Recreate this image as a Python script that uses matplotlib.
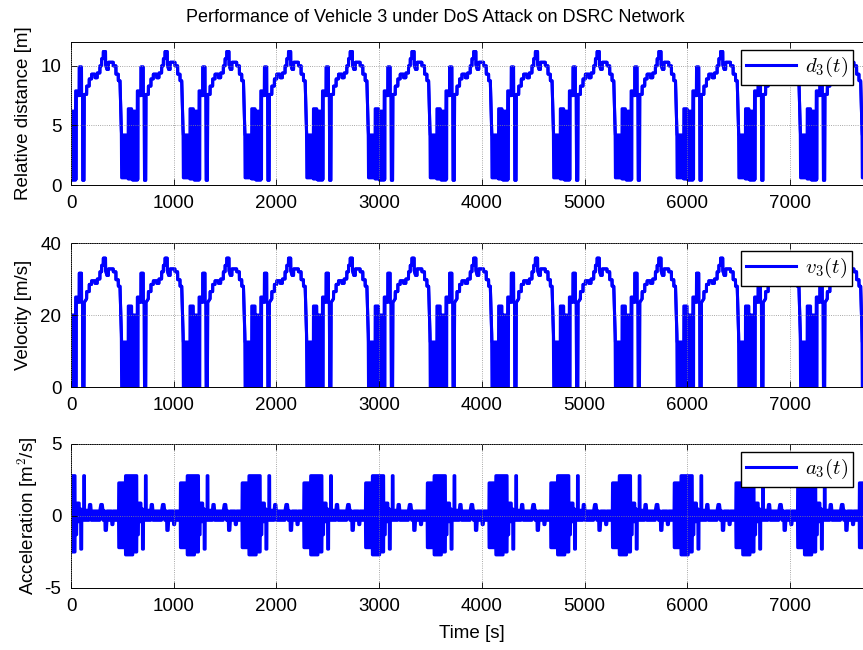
import numpy as np
import matplotlib
matplotlib.use("Agg")
import matplotlib.pyplot as plt

# start time of each repeated driving cycle [s]
cycle_starts = [0, 601, 1202, 1803, 2404, 3005, 3606, 4207, 4808, 5409, 6010, 6611, 7212]

# one cycle, time offsets [s]; lo/hi give the band swept by the fast switching
dv_r = [0, 44, 45, 52, 53, 80, 81, 102, 103, 112,
        115, 126, 129, 152, 153, 177, 178, 200, 201, 233,
        234, 255, 256, 281, 282, 298, 299, 314, 315, 336,
        337, 350, 364, 365, 411, 412, 437, 438, 460, 461,
        477, 490, 493, 557, 558, 590, 591, 601]

d_lo = [0.4, 0.4, 0.5, 0.5, 7.5, 7.5, 9.9, 9.9, 7.5, 7.5,
        0.4, 0.4, 7.6, 7.6, 8.3, 8.3, 8.9, 8.9, 9.3, 9.3,
        9.0, 9.0, 9.4, 9.4, 10.0, 10.0, 10.6, 10.6, 11.2, 11.2,
        10.1, 9.7, 9.7, 10.3, 10.3, 10.0, 10.0, 9.3, 9.3, 8.75,
        8.75, 4.6, 0.6, 0.6, 0.5, 0.5, 0.5, 0.5]
d_hi = [6.2, 6.2, 7.9, 7.9, 7.9, 7.9, 9.9, 9.9, 7.5, 7.5,
        0.4, 0.4, 7.6, 7.6, 8.3, 8.3, 8.9, 8.9, 9.3, 9.3,
        9.0, 9.0, 9.4, 9.4, 10.0, 10.0, 10.6, 10.6, 11.2, 11.2,
        10.1, 9.7, 9.7, 10.3, 10.3, 10.0, 10.0, 9.3, 9.3, 8.75,
        8.75, 4.6, 4.2, 4.2, 6.4, 6.4, 5.7, 5.7]

v_lo = [0, 0, 0, 0, 23.5, 23.5, 31.6, 31.6, 23.5, 23.5,
        0, 0, 23.5, 24.5, 26.5, 26.5, 28.5, 28.5, 29.5, 29.5,
        28.8, 28.8, 30.0, 30.0, 32.0, 32.0, 33.8, 33.8, 35.8, 35.8,
        32.3, 31.0, 31.0, 32.8, 32.8, 32.0, 32.0, 29.8, 29.8, 28.0,
        28.0, 14.7, 0, 0, 0, 0, 0, 0]
v_hi = [20, 20, 25, 25, 25, 25, 31.6, 31.6, 23.5, 23.5,
        0, 0, 23.5, 24.5, 26.5, 26.5, 28.5, 28.5, 29.5, 29.5,
        28.8, 28.8, 30.0, 30.0, 32.0, 32.0, 33.8, 33.8, 35.8, 35.8,
        32.3, 31.0, 31.0, 32.8, 32.8, 32.0, 32.0, 29.8, 29.8, 28.0,
        28.0, 14.7, 12.5, 12.5, 22.5, 22.5, 19.0, 19.0]

a_r = [0, 39, 40, 55, 56, 80, 81, 94, 95, 104,
       105, 123, 124, 131, 132, 175, 180, 192, 197, 280,
       290, 305, 312, 330, 332, 345, 350, 395, 398, 408,
       412, 463, 465, 530, 531, 601]
a_lo = [-2.5, -2.5, -1.3, -1.3, -0.4, -0.4, -0.4, -0.4, -2.3, -2.3,
        -0.3, -0.3, -0.3, -0.3, -0.3, -0.3, -0.1, -0.1, -0.3, -0.3,
        0.0, 0.0, -0.3, -0.3, -1.0, -1.0, -0.3, -0.3, -0.6, -0.6,
        -0.3, -0.3, -2.2, -2.2, -2.7, -2.7]
a_hi = [2.8, 2.8, 0.9, 0.9, 0.9, 0.9, 0.5, 0.5, 0.4, 0.4,
        0.4, 0.4, 2.8, 2.8, 0.4, 0.4, 0.8, 0.8, 0.35, 0.35,
        0.8, 0.8, 0.35, 0.35, 0.2, 0.2, 0.35, 0.35, 0.3, 0.3,
        0.35, 0.35, 2.3, 2.3, 2.8, 2.8]

x_ticks = [0, 1000, 2000, 3000, 4000, 5000, 6000, 7000, 8000]
x_ticklabels = ['0', '1000', '2000', '3000', '4000', '5000', '6000', '7000', '']

plt.rcParams['font.family'] = ['Liberation Sans', 'DejaVu Sans']
plt.rcParams['mathtext.fontset'] = 'cm'
plt.rcParams['axes.unicode_minus'] = False


def repeat_cycles(r, lo, hi):
    t = np.concatenate([s + np.array(r, float) for s in cycle_starts])
    return t, np.tile(lo, len(cycle_starts)), np.tile(hi, len(cycle_starts))


W, H = 863, 650
fig = plt.figure(figsize=(W / 100, H / 100), dpi=100)

left_px, width_px = 71, 821.6
panels = [
    # top, bottom px, profile, ylim, yticks, legend, ylabel, ylabel x px
    (42, 185, (dv_r, d_lo, d_hi), (0, 12), [0, 5, 10], r'$d_3(t)$',
     'Relative distance [m]', 23),
    (243, 387, (dv_r, v_lo, v_hi), (0, 40), [0, 20, 40], r'$v_3(t)$',
     'Velocity [m/s]', 24),
    (444, 588, (a_r, a_lo, a_hi), (-5, 5), [-5, 0, 5], r'$a_3(t)$',
     'Acceleration [m$^2$/s]', 28),
]

for top, bot, prof, ylim, yticks, leg, ylab, ylx in panels:
    ax = fig.add_axes([left_px / W, 1 - bot / H, width_px / W, (bot - top) / H])
    t, lo, hi = repeat_cycles(*prof)
    ax.fill_between(t, lo, hi, color='b', lw=0)
    line, = ax.plot(t, hi, color='b', lw=2.2, label=leg)
    ax.plot(t, lo, color='b', lw=2.2)
    ax.set_xlim(0, 8000)
    ax.set_ylim(*ylim)
    ax.set_xticks(x_ticks)
    ax.set_xticklabels(x_ticklabels)
    ax.set_yticks(yticks)
    ax.grid(True, linestyle=':', color='0.55', linewidth=0.6)
    ax.set_axisbelow(False)
    ax.tick_params(direction='in', top=True, right=True, length=4, width=0.6,
                   labelsize=13.5, pad=7)
    for sp in ax.spines.values():
        sp.set_linewidth(0.7)
    ax.legend(handles=[line], loc='upper left',
              bbox_to_anchor=((741 - left_px) / width_px, 1 - 8 / (bot - top)),
              borderaxespad=0, fontsize=15, handlelength=2.4,
              handletextpad=0.4, borderpad=0.25, fancybox=False,
              framealpha=1, edgecolor='k')
    fig.text(ylx / W, 1 - (top + bot) / 2 / H, ylab, rotation=90,
             ha='center', va='center', fontsize=13.5)

fig.text(435 / W, 1 - 18 / H, 'Performance of Vehicle 3 under DoS Attack on DSRC Network',
         ha='center', va='center', fontsize=13)
fig.text(472 / W, 1 - 633 / H, 'Time [s]', ha='center', va='center', fontsize=13.5)

fig.savefig('out.png', dpi=100)
